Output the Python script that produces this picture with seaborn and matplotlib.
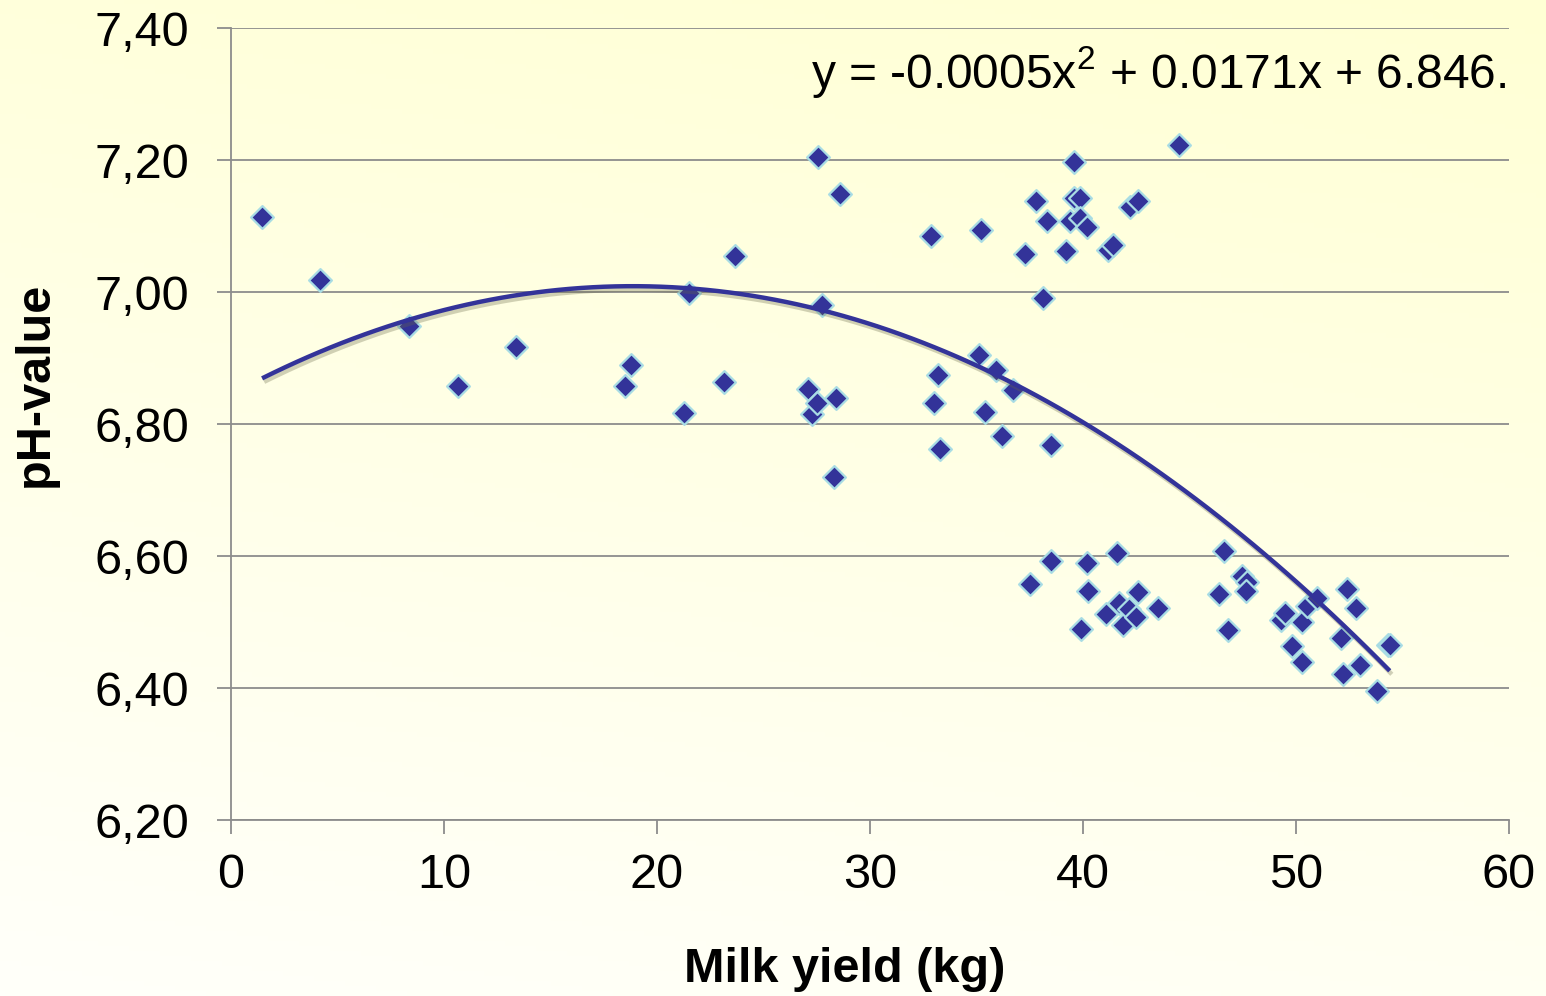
import numpy as np
import pandas as pd
import matplotlib
matplotlib.use("Agg")
import matplotlib.pyplot as plt
import matplotlib.patheffects as pe
import seaborn as sns

milk_yield = [1.46, 4.18, 8.36, 10.66, 13.38, 18.5, 18.78, 21.27, 21.5, 23.15,
              23.66, 27.09, 27.28, 27.5, 27.56, 27.75, 28.4, 28.3, 28.6, 32.86,
              33.0, 33.2, 33.3, 35.1, 35.2, 35.4, 35.9, 36.2, 36.7, 37.28,
              37.5, 37.8, 38.1, 38.3, 38.5, 38.5, 39.2, 39.4, 39.6, 39.6,
              39.86, 39.86, 39.9, 40.2, 40.2, 40.23, 41.17, 41.4, 41.1, 41.6,
              41.7, 41.9, 42.16, 42.2, 42.5, 42.6, 42.6, 43.5, 44.5, 46.4,
              46.6, 46.8, 47.47, 47.7, 47.65, 49.3, 49.5, 49.8, 50.3, 50.3,
              50.5, 51.0, 52.1, 52.2, 52.4, 52.8, 53.0, 53.8, 54.3, 54.4]
ph_value = [7.114, 7.018, 6.948, 6.858, 6.917, 6.858, 6.889, 6.817, 6.998, 6.864,
            7.055, 6.853, 6.815, 6.832, 7.205, 6.980, 6.839, 6.720, 7.148, 7.085,
            6.832, 6.874, 6.762, 6.905, 7.094, 6.818, 6.882, 6.782, 6.852, 7.058,
            6.558, 7.138, 6.991, 7.108, 6.768, 6.592, 7.062, 7.108, 7.197, 7.142,
            7.142, 7.112, 6.489, 7.098, 6.589, 6.547, 7.064, 7.071, 6.512, 6.605,
            6.529, 6.495, 6.520, 7.129, 6.508, 7.138, 6.545, 6.521, 7.223, 6.542,
            6.608, 6.488, 6.570, 6.561, 6.547, 6.503, 6.514, 6.464, 6.500, 6.439,
            6.524, 6.536, 6.476, 6.421, 6.550, 6.521, 6.435, 6.395, 6.465, 6.465]

x_ticks = [0, 10, 20, 30, 40, 50, 60]
y_ticks = [6.20, 6.40, 6.60, 6.80, 7.00, 7.20, 7.40]
y_tick_labels = ["6,20", "6,40", "6,60", "6,80", "7,00", "7,20", "7,40"]
equation_text = "y = -0.0005x$^2$ + 0.0171x + 6.846."

df = pd.DataFrame({"Milk yield (kg)": milk_yield, "pH-value": ph_value})

sns.set_theme(style="white")
plt.rcParams["font.family"] = ["Liberation Sans", "DejaVu Sans"]
plt.rcParams["mathtext.fontset"] = "custom"
plt.rcParams["mathtext.rm"] = "Liberation Sans"

fig = plt.figure(figsize=(15.46, 9.96), dpi=100)

# background gradient
bg = fig.add_axes([0, 0, 1, 1], zorder=-10)
ny, nx = 200, 300
yy, xx = np.mgrid[0:1:complex(0, ny), 0:1:complex(0, nx)]
t = np.clip(0.8 * (1 - yy) + 0.2 * xx, 0, 1)
top = np.array([255, 255, 212]) / 255.0
bot = np.array([255, 255, 250]) / 255.0
img = bot[None, None, :] * (1 - t[..., None]) + top[None, None, :] * t[..., None]
bg.imshow(img[::-1], aspect="auto", extent=[0, 1, 0, 1], origin="lower")
bg.axis("off")

ax = fig.add_axes([231 / 1546, 1 - 820 / 996, (1509 - 231) / 1546, (820 - 28) / 996])
ax.set_facecolor("none")

dark = "#333399"
sns.scatterplot(data=df, x="Milk yield (kg)", y="pH-value", marker="D", s=135,
                color=dark, edgecolor="#a8dce4", linewidth=1.6, ax=ax, zorder=3)
sns.regplot(data=df, x="Milk yield (kg)", y="pH-value", order=2, scatter=False, ci=None,
            ax=ax, color=dark,
            line_kws=dict(lw=3.2, zorder=4, solid_capstyle="butt",
                          path_effects=[pe.SimpleLineShadow(offset=(1.5, -2.5), shadow_color="#666644", alpha=0.3),
                                        pe.Normal()]))

ax.set_xlim(0, 60)
ax.set_ylim(6.20, 7.40)
ax.set_xticks(x_ticks)
ax.set_xticklabels([str(v) for v in x_ticks])
ax.set_yticks(y_ticks)
ax.set_yticklabels(y_tick_labels)

ax.grid(axis="y", color="#8c8c8c", lw=1.3)
ax.grid(axis="x", visible=False)
ax.set_axisbelow(True)
for side in ["top", "right"]:
    ax.spines[side].set_visible(False)
for side in ["left", "bottom"]:
    ax.spines[side].set_color("#8c8c8c")
    ax.spines[side].set_linewidth(1.3)

ax.tick_params(axis="both", which="major", direction="out", length=10, width=1.3,
               color="#8c8c8c", labelsize=35, labelcolor="black")
ax.tick_params(axis="y", pad=20, left=True)
ax.tick_params(axis="x", pad=14, bottom=True)

ax.set_xlabel("Milk yield (kg)", fontsize=35, fontweight="bold", color="black")
ax.set_ylabel("pH-value", fontsize=35, fontweight="bold", color="black")
ax.xaxis.set_label_coords(0.480, -0.189)
ax.xaxis.label.set_va("center")
ax.yaxis.set_label_coords(-0.153, 0.5505)
ax.yaxis.label.set_va("center")

ax.text(0.998, 0.945, equation_text, transform=ax.transAxes, ha="right", va="center",
        fontsize=34.5, color="black")

fig.savefig("out.png", dpi=100)
